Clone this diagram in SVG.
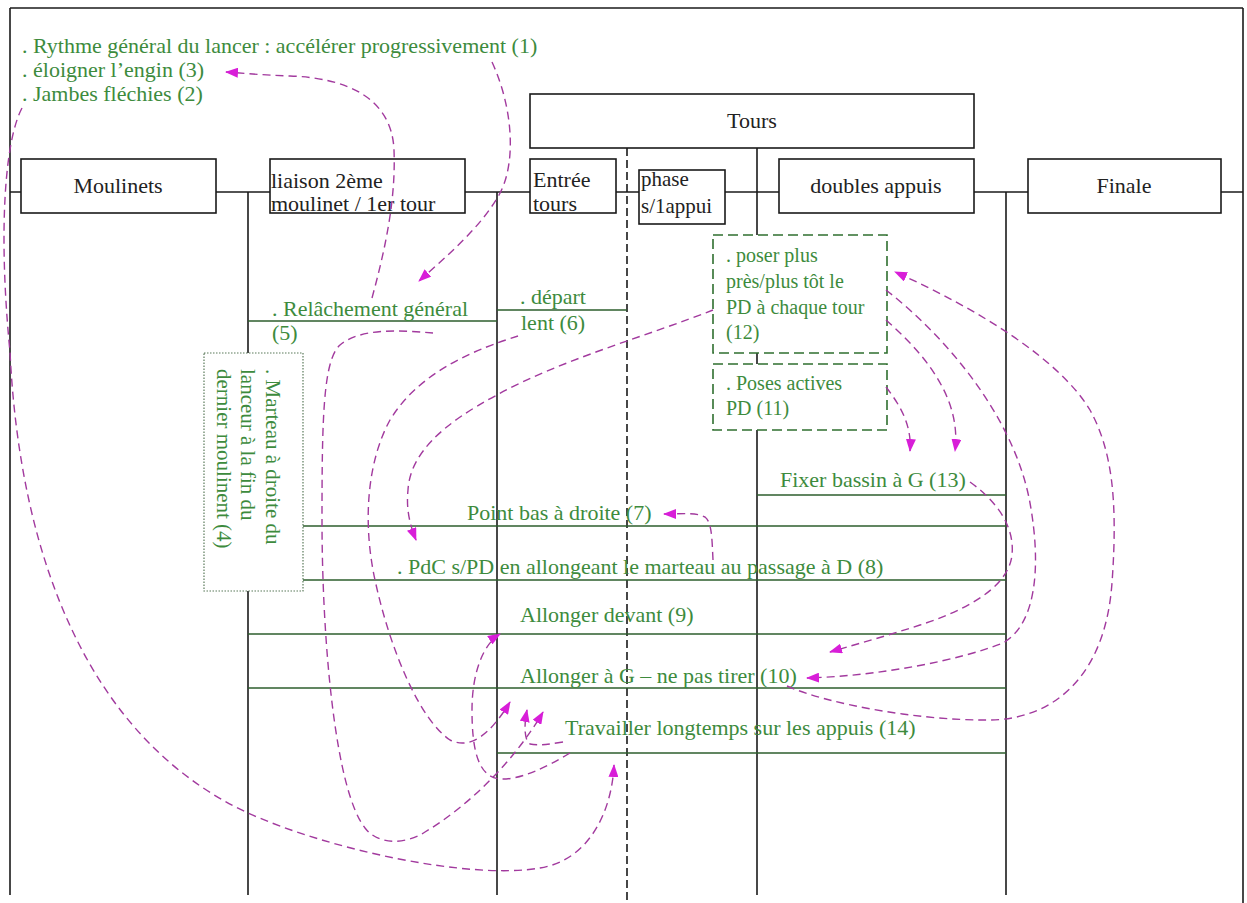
<svg xmlns="http://www.w3.org/2000/svg" width="1247" height="903" viewBox="0 0 1247 903">
<defs>
<marker id="ah" markerUnits="userSpaceOnUse" markerWidth="13" markerHeight="10" refX="12" refY="5" orient="auto">
<path d="M0,0 L13,5 L0,10 Z" fill="#d81ed8"/>
</marker>
</defs>
<rect width="1247" height="903" fill="#fff"/>
<g id="frame" stroke="#1a1a1a" stroke-width="1.6" fill="none">
<line x1="10" y1="8" x2="1243" y2="8"/>
<line x1="10" y1="8" x2="10" y2="895"/>
<line x1="1243" y1="8" x2="1243" y2="903"/>
<line x1="10" y1="192" x2="1243" y2="192"/>
<line x1="248" y1="192" x2="248" y2="895"/>
<line x1="497" y1="192" x2="497" y2="895"/>
<line x1="757" y1="148" x2="757" y2="895"/>
<line x1="1006" y1="192" x2="1006" y2="895"/>
<line x1="627" y1="148" x2="627" y2="903" stroke-dasharray="8 4"/>
</g>
<g id="event-lines" stroke="#2c5e2c" stroke-width="1.5">
<line x1="248" y1="321" x2="497" y2="321"/>
<line x1="497" y1="310" x2="627" y2="310"/>
<line x1="757" y1="495" x2="1006" y2="495"/>
<line x1="303" y1="526" x2="1006" y2="526"/>
<line x1="303" y1="580" x2="1006" y2="580"/>
<line x1="248" y1="634" x2="1006" y2="634"/>
<line x1="248" y1="688" x2="1006" y2="688"/>
<line x1="497" y1="753" x2="1006" y2="753"/>
</g>
<g id="notes-top">
<text x="22" y="53" font-family="Liberation Serif" font-size="22" fill="#3d8b3d">. Rythme général du lancer : accélérer progressivement (1)</text>
<text x="22" y="77" font-family="Liberation Serif" font-size="22" fill="#3d8b3d">. éloigner l’engin (3)</text>
<text x="22" y="101" font-family="Liberation Serif" font-size="22" fill="#3d8b3d">. Jambes fléchies (2)</text>
</g>
<g id="tours"><rect x="530" y="94" width="444" height="54" fill="#fff" stroke="#1a1a1a" stroke-width="1.6"/><text x="752" y="128" text-anchor="middle" font-family="Liberation Serif" font-size="22" fill="#222">Tours</text></g>
<g id="moulinets"><rect x="21" y="159" width="195" height="54" fill="#fff" stroke="#1a1a1a" stroke-width="1.6"/><text x="118" y="193" text-anchor="middle" font-family="Liberation Serif" font-size="22" fill="#222">Moulinets</text></g>
<g id="liaison"><rect x="270" y="159" width="195" height="54" fill="#fff" stroke="#1a1a1a" stroke-width="1.6"/><text x="271" y="188" font-family="Liberation Serif" font-size="22" fill="#222">liaison 2ème</text><text x="271" y="211" font-family="Liberation Serif" font-size="22" fill="#222">moulinet / 1er tour</text></g>
<g id="entree"><rect x="530" y="159" width="86" height="54" fill="#fff" stroke="#1a1a1a" stroke-width="1.6"/><text x="533" y="187" font-family="Liberation Serif" font-size="22" fill="#222">Entrée</text><text x="533" y="211" font-family="Liberation Serif" font-size="22" fill="#222">tours</text></g>
<g id="phase"><rect x="639" y="170" width="86" height="54" fill="#fff" stroke="#1a1a1a" stroke-width="1.6"/><text x="641" y="186" font-family="Liberation Serif" font-size="21" fill="#222">phase</text><text x="641" y="213" font-family="Liberation Serif" font-size="21" fill="#222">s/1appui</text></g>
<g id="doubles"><rect x="779" y="159" width="195" height="54" fill="#fff" stroke="#1a1a1a" stroke-width="1.6"/><text x="876" y="193" text-anchor="middle" font-family="Liberation Serif" font-size="22" fill="#222">doubles appuis</text></g>
<g id="finale"><rect x="1028" y="159" width="193" height="54" fill="#fff" stroke="#1a1a1a" stroke-width="1.6"/><text x="1124" y="193" text-anchor="middle" font-family="Liberation Serif" font-size="22" fill="#222">Finale</text></g>
<g id="n4"><rect x="204" y="353" width="99" height="238" fill="#fff" stroke="#5a7a5a" stroke-width="1.2" stroke-dasharray="1.5 1.5"/>
<g transform="translate(266,369) rotate(90)"><text x="0" y="0" font-family="Liberation Serif" font-size="21" fill="#3d8b3d">. Marteau à droite du</text><text x="0" y="25" font-family="Liberation Serif" font-size="21" fill="#3d8b3d">lanceur à la fin du</text><text x="0" y="49" font-family="Liberation Serif" font-size="21" fill="#3d8b3d">dernier moulinent (4)</text></g></g>
<g id="n12"><rect x="713" y="235" width="174" height="118" fill="#fff" stroke="#2f6f2f" stroke-width="1.6" stroke-dasharray="10 5"/><text x="726" y="262" font-family="Liberation Serif" font-size="20" fill="#3d8b3d">. poser plus</text><text x="726" y="288" font-family="Liberation Serif" font-size="20" fill="#3d8b3d">près/plus tôt le</text><text x="726" y="314" font-family="Liberation Serif" font-size="20" fill="#3d8b3d">PD à chaque tour</text><text x="726" y="339" font-family="Liberation Serif" font-size="20" fill="#3d8b3d">(12)</text></g>
<g id="n11"><rect x="713" y="364" width="174" height="66" fill="#fff" stroke="#2f6f2f" stroke-width="1.6" stroke-dasharray="10 5"/><text x="726" y="390" font-family="Liberation Serif" font-size="20" fill="#3d8b3d">. Poses actives</text><text x="726" y="415" font-family="Liberation Serif" font-size="20" fill="#3d8b3d">PD (11)</text></g>
<g id="n5"><text x="272" y="316" font-family="Liberation Serif" font-size="22" fill="#3d8b3d">. Relâchement général</text><text x="272" y="340" font-family="Liberation Serif" font-size="22" fill="#3d8b3d">(5)</text></g>
<g id="n6"><text x="520" y="304" font-family="Liberation Serif" font-size="22" fill="#3d8b3d">. départ</text><text x="521" y="330" font-family="Liberation Serif" font-size="22" fill="#3d8b3d">lent (6)</text></g>
<g id="n13"><text x="780" y="487" font-family="Liberation Serif" font-size="22" fill="#3d8b3d">Fixer bassin à G (13)</text></g>
<g id="n7"><text x="467" y="520" font-family="Liberation Serif" font-size="22" fill="#3d8b3d">Point bas à droite (7)</text></g>
<g id="n8"><text x="397" y="574" font-family="Liberation Serif" font-size="22" fill="#3d8b3d">. PdC s/PD en allongeant le marteau au passage à D (8)</text></g>
<g id="n9"><text x="520" y="622" font-family="Liberation Serif" font-size="22" fill="#3d8b3d">Allonger devant (9)</text></g>
<g id="n10"><text x="520" y="683" font-family="Liberation Serif" font-size="22" fill="#3d8b3d">Allonger à G – ne pas tirer (10)</text></g>
<g id="n14"><text x="565" y="735" font-family="Liberation Serif" font-size="22" fill="#3d8b3d">Travailler longtemps sur les appuis (14)</text></g>
<g id="connectors" fill="none" stroke="#a23a9e" stroke-width="1.4" stroke-dasharray="8 5" marker-end="url(#ah)">
<path d="M492,62 C514,110 516,165 499,195 C480,228 448,255 419,281"/>
<path d="M372,298 C385,250 396,200 394,150 C392,100 350,78 290,76 C260,75 242,73 226,72"/>
<path d="M22,108 C5,140 -2,230 10,352 C20,560 90,740 248,813 C330,850 470,880 540,868 C590,860 612,810 614,765"/>
<path d="M433,333 C400,330 360,328 340,345 C323,360 322,420 322,520 C322,640 335,790 365,828 C378,845 405,845 425,832 C470,805 515,760 543,712"/>
<path d="M518,336 C480,348 420,370 390,420 C368,460 362,520 375,580 C390,650 420,720 450,740 C470,750 490,735 510,702"/>
<path d="M713,310 C650,335 560,360 497,395 C440,425 410,455 408,490 C406,510 410,525 416,540"/>
<path d="M570,753 C545,768 520,780 500,779 C478,777 472,750 472,710 C472,675 482,645 500,634"/>
<path d="M563,742 C550,744 538,746 530,744 C524,740 524,725 527,710"/>
<path d="M713,560 C712,540 712,522 705,517 C695,512 682,514 664,514"/>
<path d="M787,686 C830,705 920,720 983,720 C1050,722 1105,680 1112,583 C1118,500 1112,450 1090,410 C1060,360 980,310 895,272"/>
<path d="M886,290 C950,340 1015,420 1030,503 C1042,570 1035,625 1003,643 C960,660 880,676 807,678"/>
<path d="M886,320 C920,350 962,395 955,451"/>
<path d="M886,387 C900,405 912,425 910,451"/>
<path d="M970,482 C995,500 1015,525 1012,555 C1008,590 960,612 920,625 C880,638 850,646 830,652"/>
</g>
</svg>
